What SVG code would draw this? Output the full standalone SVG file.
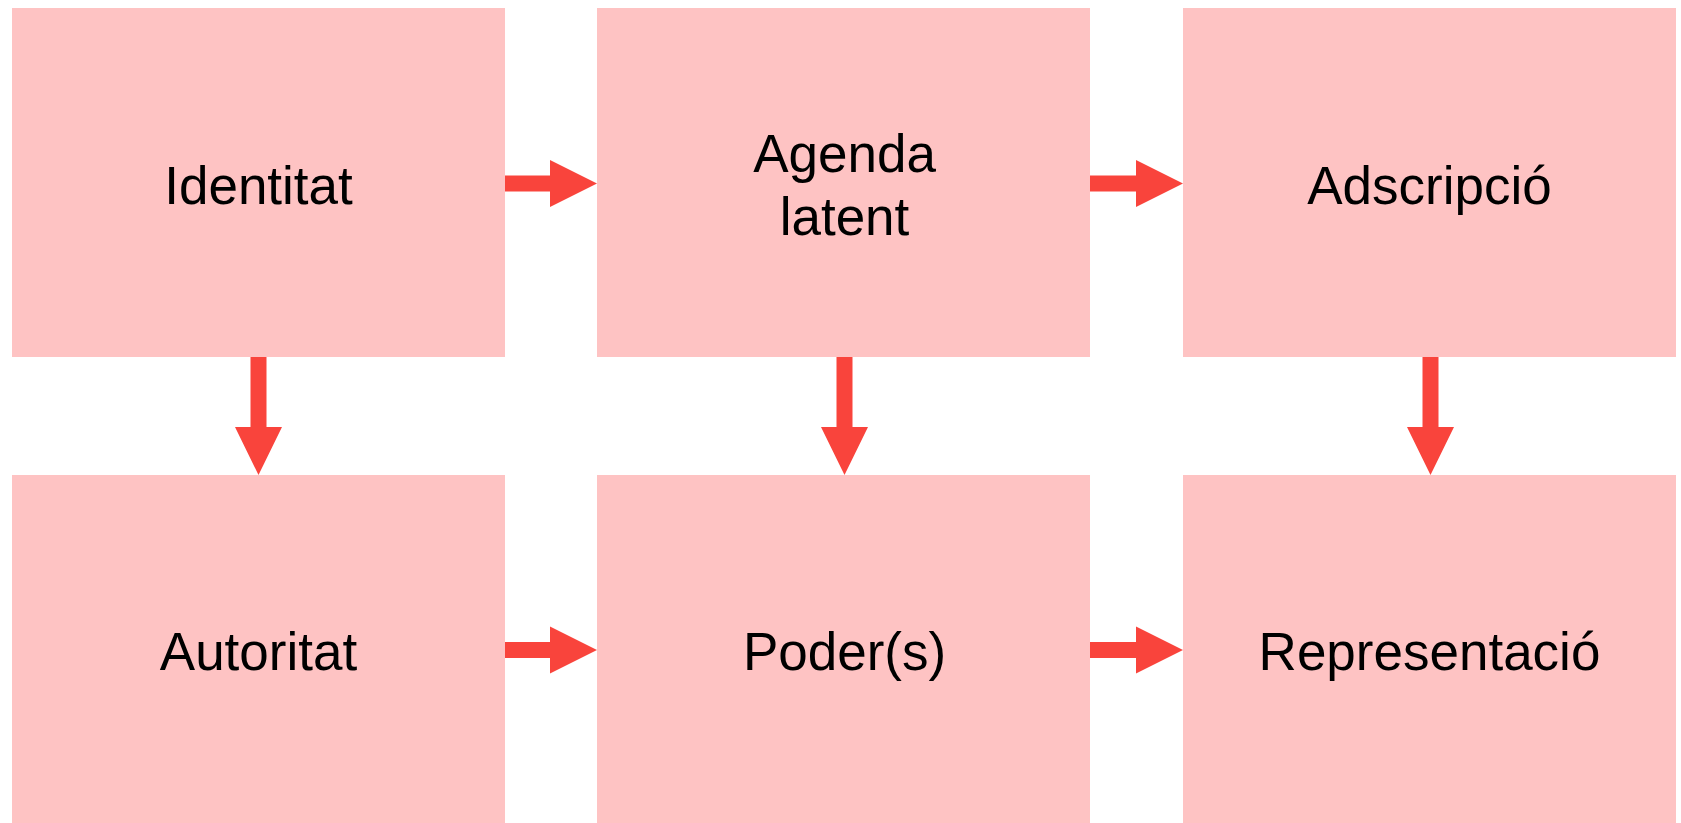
<svg xmlns="http://www.w3.org/2000/svg" width="1681" height="823" viewBox="0 0 1681 823">
<style>
.box{fill:#FEC3C3}
.lbl{font-family:"Liberation Sans",Arial,sans-serif;font-size:53px;fill:#000;text-anchor:middle}
.arr{fill:#F9443C}
</style>
<rect width="1681" height="823" fill="#fff"/>
<g id="connectors">
<polygon class="arr" points="504,175.5 550,175.5 550,160 597,183.5 550,207 550,191.5 504,191.5"/>
<polygon class="arr" points="1090,175.5 1136,175.5 1136,160 1183,183.5 1136,207 1136,191.5 1090,191.5"/>
<polygon class="arr" points="504,642 550,642 550,626.5 597,650 550,673.5 550,658 504,658"/>
<polygon class="arr" points="1090,642 1136,642 1136,626.5 1183,650 1136,673.5 1136,658 1090,658"/>
<polygon class="arr" points="250.5,357 266.5,357 266.5,427 282,427 258.5,475 235,427 250.5,427"/>
<polygon class="arr" points="836.5,357 852.5,357 852.5,427 868,427 844.5,475 821,427 836.5,427"/>
<polygon class="arr" points="1422.5,357 1438.5,357 1438.5,427 1454,427 1430.5,475 1407,427 1422.5,427"/>
</g>
<g id="n-identitat"><rect class="box" x="12" y="8" width="493" height="349"/><text class="lbl" x="258.5" y="204">Identitat</text></g>
<g id="n-agenda"><rect class="box" x="597" y="8" width="493" height="349"/><text class="lbl" x="844.5" y="172">Agenda</text><text class="lbl" x="844.5" y="235">latent</text></g>
<g id="n-adscripcio"><rect class="box" x="1183" y="8" width="493" height="349"/><text class="lbl" x="1429.5" y="204">Adscripció</text></g>
<g id="n-autoritat"><rect class="box" x="12" y="475" width="493" height="348"/><text class="lbl" x="258.5" y="670">Autoritat</text></g>
<g id="n-poders"><rect class="box" x="597" y="475" width="493" height="348"/><text class="lbl" x="844.5" y="670">Poder(s)</text></g>
<g id="n-representacio"><rect class="box" x="1183" y="475" width="493" height="348"/><text class="lbl" x="1429.5" y="670">Representació</text></g>
</svg>
